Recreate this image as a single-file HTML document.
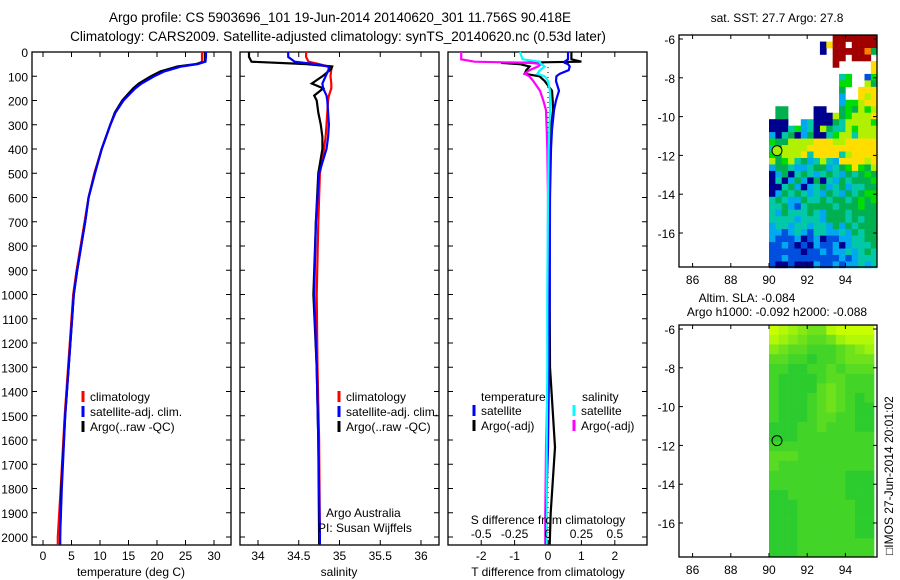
<!DOCTYPE html>
<html><head><meta charset="utf-8"><style>
html,body{margin:0;padding:0;background:#fff;}
svg{display:block;font-family:"Liberation Sans",sans-serif;}
text{fill:#000;}
</style></head><body>
<svg id="s" width="900" height="580" viewBox="0 0 900 580" xmlns="http://www.w3.org/2000/svg">
<text x="340" y="22" font-size="13.5" text-anchor="middle">Argo profile: CS 5903696_101 19-Jun-2014 20140620_301 11.756S 90.418E</text>
<text x="338" y="41" font-size="13.5" text-anchor="middle">Climatology: CARS2009. Satellite-adjusted climatology: synTS_20140620.nc (0.53d later)</text>
<g id="g"></g>
</svg>
<script>
// ---------- data ----------
const tDepth   = [0,20,40,50,60,80,100,130,150,200,250,300,400,500,600,700,800,900,1000,1200,1500,1800,2000,2030];
const tClim    = [27.9,27.9,27.9,27,23.8,20.9,19.2,17.1,16.1,14.1,12.7,11.8,10.3,9.0,8.0,7.3,6.6,5.9,5.3,4.7,3.8,3.1,2.6,2.6];
const tSat     = [28.6,28.6,28.5,27.2,24.3,21.3,19.5,17.3,16.2,14.1,12.7,11.8,10.3,9.1,8.0,7.4,6.7,6.0,5.4,4.8,3.9,3.3,3.0,3.0];
const tArgo    = [28.4,28.4,28.4,26.8,23.6,20.6,18.9,16.8,15.8,13.9,12.6,11.8,10.3,9.1,8.0,7.4,6.7,6.0,5.4,4.8,3.9,3.2,3.0,3.0];
const sDepth   = [0,20,40,50,60,70,100,130,150,180,200,250,300,350,400,500,700,1000,1300,1600,2000,2030];
const sClim    = [34.59,34.59,34.62,34.75,34.86,34.90,34.89,34.90,34.90,34.87,34.86,34.85,34.84,34.83,34.81,34.76,34.74,34.72,34.73,34.75,34.76,34.76];
const sSat     = [34.37,34.37,34.45,34.70,34.86,34.87,34.83,34.79,34.80,34.84,34.85,34.86,34.87,34.86,34.84,34.75,34.71,34.69,34.72,34.74,34.76,34.76];
const sArgo    = [33.89,33.89,33.92,34.60,34.91,34.90,34.79,34.66,34.80,34.69,34.72,34.74,34.77,34.79,34.79,34.74,34.71,34.68,34.72,34.74,34.75,34.75];
const dDepth   = [0,30,40,45,50,60,75,90,100,120,160,200,240,320,400,600,1000,1300,1630,1900,2030];
const dTSat    = [0.60,0.60,0.50,0.50,0.60,0.65,0.62,0.35,0.25,0.24,0.33,0.24,0.18,0.12,0.09,0.06,0.05,0.03,0.0,-0.06,-0.06];
const dTArgo   = [0.70,0.70,1.00,-1.40,-0.85,-0.55,-0.65,-0.70,-0.25,-0.10,0.12,0.14,0.15,0.08,0.05,0.04,0.05,0.06,0.21,0.08,0.05];
const dSSat    = [-0.21,-0.19,-0.06,-0.06,-0.05,-0.025,-0.06,-0.08,-0.025,0.0,0.015,0.015,0.015,0.01,0.005,0.0,-0.005,-0.005,-0.01,-0.01,-0.01];
const dSArgo   = [-0.65,-0.65,-0.55,-0.125,-0.05,-0.075,-0.14,-0.175,-0.14,-0.11,-0.06,-0.035,-0.015,-0.01,-0.005,0.0,0.0,0.0,-0.015,-0.02,-0.02];
const depthTicks = [0,100,200,300,400,500,600,700,800,900,1000,1100,1200,1300,1400,1500,1600,1700,1800,1900,2000];
const tTicks = [0,5,10,15,20,25,30];
const sTicks = [34,34.5,35,35.5,36];
const dTTicks = [-2,-1,0,1,2];
const dSTicks = [-0.5,-0.25,0,0.25,0.5];
const dSTickLabels = ['-0.5','-0.25','0','0.25','0.5'];
const latTicks = [-6,-8,-10,-12,-14,-16];
const lonTicks = [86,88,90,92,94];
const sstRows = [
"wwwwwwwwwwrrrrrrr","wwwwwwwwdyrrwrrrr","wwwwwwwwdwrrrrrog","wwwwwwwwwwrrwrrrw",
"wwwwwwwwwwrwwwwwy","wwwwwwwwwwwwwwwwy","wwwwwwwwwwwtGwwbG","wwwwwwwwwwwGGwwlg",
"wwwwwwwwwwwgwwyyy","wwwwwwwwwwwcwwyly","wwwwwwwwwwwcGGlyy","wggwwwwddwwgGglGl",
"wggwwwwdddlgGllly","dddwwctdddgtllllG","dddtGctdlgttlGlll","cdtgdcgddtGlltlll",
"Gggllllyyyllyyyyy","tgllllyyyyyyyyyyy","Gglllytyyyytlyyyy","lgGltgctltcyyyyly",
"cggtcctggctgGyGgl","dcgdtgtctgtcgtgGg","dtdcgcdgdtcgtgggG","ddtgcdctgctgcttgg",
"dcgtgtctcgtcgtgGG","tgtccgttgtggtgGgG","ttgcbtggggtgggGgg","tcgtttgtcgggtgggg",
"ttttctttcgggtgtgg","cttcttcttcgcgtggg","ccbctcbttcctcgtgg","cbbbcdbcdbbccttgg",
"bbcbdbdcbbcdctttg","bbbbbdbbcbcctctgt","bbcbbbbbbbbcbcttt","bddbdddcbbcbcctct"];
const sstColors = {d:"#00008f",b:"#0050e0",c:"#00a8f0",t:"#00c8a8",g:"#00b050",G:"#00dd00",l:"#b0f000",y:"#ffdd00",o:"#ff8000",r:"#a00000"};
const slaRows = [
"98765589999","87654457888","65443334567","44332334555","33223343444","32222344333",
"32222454333","32223454323","32223454322","32223443322","22233433322","22233333333",
"33333333333","44433333333","43333333333","33333333222","33333333222","22333333222",
"22233333322","22233333322","22233333322","22233333322","22233333333","22233333333"];
const argoLon = 90.418, argoLat = -11.756;

// ---------- helpers ----------
const G = document.getElementById('g');
const NS = 'http://www.w3.org/2000/svg';
function mk(tag, attrs, parent){const e=document.createElementNS(NS,tag);for(const k in attrs)e.setAttribute(k,attrs[k]);(parent||G).appendChild(e);return e;}
function txt(x,y,s,anchor,size,parent){const t=mk('text',{x:x,y:y,'font-size':size||12,'text-anchor':anchor||'start'},parent);t.textContent=s;return t;}

const PT=52, PB=545, DMAX=(PB-PT)/0.2425;
const yD = d => PT + d/DMAX*(PB-PT);

function panel(name,x0,x1,xs,ticks,labels,showDepthLabels){
  const g=mk('g',{});
  
  
  const r=mk('rect',{x:x0,y:PT,width:x1-x0,height:PB-PT,fill:'none',stroke:'#000','stroke-width':1.3},g);
  
  
  depthTicks.forEach(d=>{
    const y=yD(d);
    mk('line',{x1:x0,x2:x0+5,y1:y,y2:y,stroke:'#000'},g);
    mk('line',{x1:x1-5,x2:x1,y1:y,y2:y,stroke:'#000'},g);
    if(showDepthLabels){const t=txt(28,y+5,String(d),'end',12,g);
      
      }
  });
  ticks.forEach((v,i)=>{
    const x=xs(v);
    mk('line',{x1:x,x2:x,y1:PB,y2:PB-5,stroke:'#000'},g);
    mk('line',{x1:x,x2:x,y1:PT,y2:PT+5,stroke:'#000'},g);
    if(labels){const t=txt(x,560,labels[i],'middle',12,g);
      
      }
  });
  return g;
}
function line(g,xs,vals,depths,color,name,w){
  const pts=vals.map((v,i)=>xs(v).toFixed(1)+','+yD(depths[i]).toFixed(1)).join(' ');
  const p=mk('polyline',{points:pts,fill:'none',stroke:color,'stroke-width':w||2.2,'stroke-linejoin':'miter'},g);
  
  
}
function legend(g,x,y,color,label,name){
  const l=mk('line',{x1:x,x2:x,y1:y-10,y2:y+1,stroke:color,'stroke-width':3},g);
  
  
  const t=txt(x+7,y,label,'start',12,g);
  
  
}

// Panel 1: temperature
const xT = v => 43 + v*5.7;
const p1 = panel('temperature-panel',32,231,xT,tTicks,tTicks.map(String),true);
line(p1,xT,tClim,tDepth,'#ff0000','temp-climatology-line');
line(p1,xT,tArgo,tDepth,'#000000','temp-argo-line');
line(p1,xT,tSat,tDepth,'#0000ff','temp-satellite-line');
legend(p1,83,401,'#ff0000','climatology','legend-climatology');
legend(p1,83,416,'#0000ff','satellite-adj. clim.','legend-satellite-adj');
legend(p1,83,431,'#000000','Argo(..raw -QC)','legend-argo');
{const t=txt(131,576,'temperature (deg C)','middle',12,p1);}

// Panel 2: salinity
const xS = v => 258 + (v-34)*81.5;
const p2 = panel('salinity-panel',240,439,xS,sTicks,sTicks.map(String),false);
line(p2,xS,sClim,sDepth,'#ff0000','sal-climatology-line');
line(p2,xS,sArgo,sDepth,'#000000','sal-argo-line');
line(p2,xS,sSat,sDepth,'#0000ff','sal-satellite-line');
legend(p2,339,401,'#ff0000','climatology','legend-climatology-2');
legend(p2,339,416,'#0000ff','satellite-adj. clim.','legend-satellite-adj-2');
legend(p2,339,431,'#000000','Argo(..raw -QC)','legend-argo-2');
{let t=txt(326,517,'Argo Australia','start',12,p2);
 t=txt(318,532,'PI: Susan Wijffels','start',12,p2);
 t=txt(339,576,'salinity','middle',12,p2);}

// Panel 3: differences
const xDT = v => 548 + v*33.4;
const xDS = v => 548 + v*133.6;
const p3 = panel('difference-panel',448,647,xDT,dTTicks,dTTicks.map(String),false);
{const z=mk('line',{x1:xDT(0),x2:xDT(0),y1:PT,y2:PB,stroke:'#000','stroke-dasharray':'1,4'},p3);}
line(p3,xDT,dTArgo,dDepth,'#000000','tdiff-argo-line');
line(p3,xDS,dSArgo,dDepth,'#ff00ff','sdiff-argo-line');
line(p3,xDT,dTSat,dDepth,'#0000ff','tdiff-satellite-line');
line(p3,xDS,dSSat,dDepth,'#00ffff','sdiff-satellite-line');
{let t=txt(481,401,'temperature','start',12,p3);
 t=txt(582,401,'salinity','start',12,p3);}
legend(p3,474,415,'#0000ff','satellite','legend-t-satellite');
legend(p3,474,430,'#000000','Argo(-adj)','legend-t-argo');
legend(p3,574,415,'#00ffff','satellite','legend-s-satellite');
legend(p3,574,430,'#ff00ff','Argo(-adj)','legend-s-argo');
{let t=txt(548,524,'S difference from climatology','middle',12,p3);
 dSTicks.forEach((v,i)=>{const tt=txt(xDS(v),538,dSTickLabels[i],'middle',12,p3);});
 t=txt(548,576,'T difference from climatology','middle',12,p3);}

// Maps
function map(name,top,drawCells){
  const L=679,R=877,H=232,B=top+H;
  const xL = lon => 769 + (lon-90)*19.1;
  const yL = lat => top+4 + (-6-lat)*19.4;
  const g=mk('g',{});
  
  
  drawCells(g,xL,yL);
  const r=mk('rect',{x:L,y:top,width:R-L,height:H,fill:'none',stroke:'#000','stroke-width':1.3},g);
  
  
  latTicks.forEach(v=>{const y=yL(v);
    mk('line',{x1:L,x2:L+4,y1:y,y2:y,stroke:'#000'},g);mk('line',{x1:R-4,x2:R,y1:y,y2:y,stroke:'#000'},g);
    const t=txt(675,y+5,String(v),'end',12,g);});
  lonTicks.forEach(v=>{const x=xL(v);
    mk('line',{x1:x,x2:x,y1:B,y2:B-4,stroke:'#000'},g);mk('line',{x1:x,x2:x,y1:top,y2:top+4,stroke:'#000'},g);
    const t=txt(x,B+17,String(v),'middle',12,g);});
  return {g,xL,yL};
}
const m1 = map('sst-map',35,(g,xL,yL)=>{
  sstRows.forEach((row,ri)=>{[...row].forEach((c,ci)=>{
    if(c==='w')return;
    const lon=90+ci/3, lat=-5.8-ri/3;
    const x=xL(lon), y=yL(lat);
    const cell=mk('rect',{x:x,y:y,width:xL(lon+1/3)-x+0.3,height:yL(lat-1/3)-y+0.3,fill:sstColors[c]},g);
    
    
  });});
});
{const c=mk('circle',{cx:m1.xL(argoLon),cy:m1.yL(argoLat),r:5,fill:'#9ef000',stroke:'#000'},m1.g);
 const t=txt(777,22,'sat. SST: 27.7 Argo: 27.8','middle',12,m1.g);}
function slaColor(v){const a=[[0,190,60],[200,255,0]];const f=v/9;
  return 'rgb('+[0,1,2].map(k=>Math.round(a[0][k]+(a[1][k]-a[0][k])*f)).join(',')+')';}
const m2 = map('sla-map',325,(g,xL,yL)=>{
  slaRows.forEach((row,ri)=>{[...row].forEach((c,ci)=>{
    const lon=90+ci*0.5, lat=-5.8-ri*0.5;
    const x=xL(lon), y=yL(lat);
    const w=Math.min(xL(lon+0.5),877)-x, h=Math.min(yL(lat-0.5),557)-y;
    if(w<=0||h<=0)return;
    const cell=mk('rect',{x:x,y:y,width:w+0.3,height:h+0.3,fill:slaColor(+c)},g);
    
    
  });});
});
{const c=mk('circle',{cx:m2.xL(argoLon),cy:m2.yL(argoLat),r:5,fill:'none',stroke:'#000'},m2.g);
 let t=txt(747,302,'Altim. SLA: -0.084','middle',12,m2.g);
 t=txt(777,316,'Argo h1000: -0.092 h2000: -0.088','middle',12,m2.g);
 t=txt(0,0,'\u25A1IMOS 27-Jun-2014 20:01:02','start',12,m2.g);t.setAttribute('transform','translate(893,555) rotate(-90)');}
</script>
</body></html>
